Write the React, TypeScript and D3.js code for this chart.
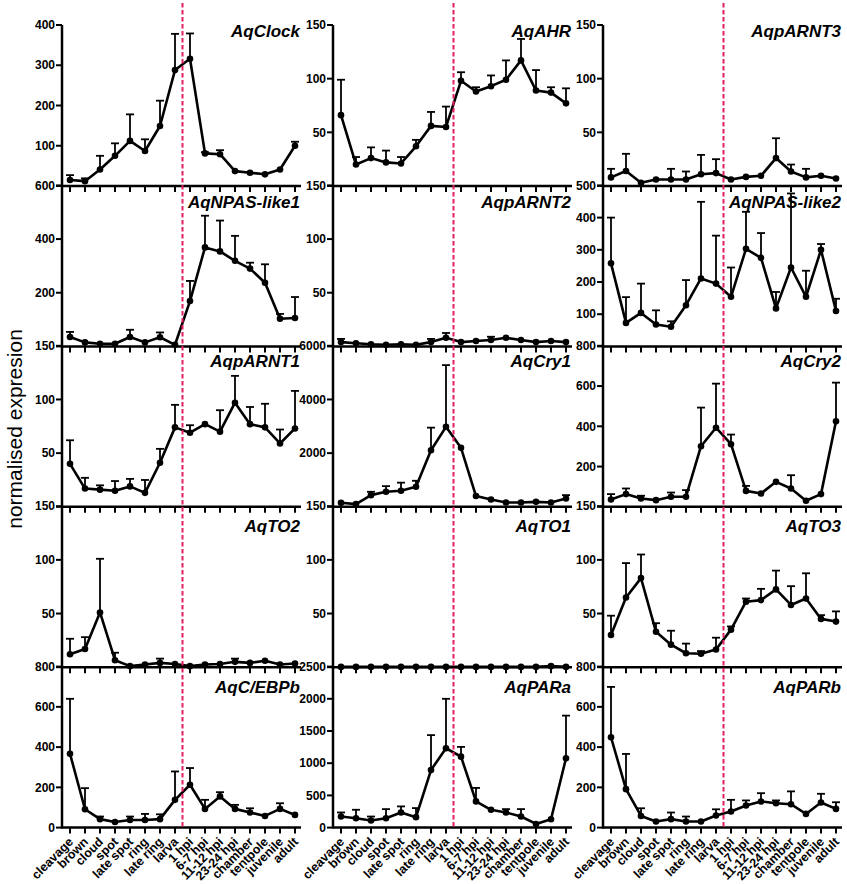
import * as d3 from "d3"

// developmental stages (x axis)
const stages = [
  "cleavage", "brown", "cloud", "spot", "late spot", "ring", "late ring", "larva",
  "1 hpi", "6-7 hpi", "11-12 hpi", "23-24 hpi", "chamber", "tentpole", "juvenile", "adult",
]

// mean expression and SEM per gene
const aqClock = [15, 12, 41, 75, 112, 87, 149, 288, 316, 81, 79, 37, 33, 29, 41, 100]
const aqClockSem = [12, 7, 34, 31, 66, 29, 63, 90, 63, 3, 10, 0, 0, 0, 0, 10]

const aqAHR = [66, 20, 26, 22, 21, 37, 56, 55, 98, 88, 93, 99, 117, 89, 87, 77]
const aqAHRSem = [33, 7, 10, 11, 6, 6, 13, 19, 8, 4, 10, 18, 20, 19, 5, 14]

const aqpARNT3 = [8, 14, 3, 6, 6, 6, 11, 12, 6, 8.5, 9.5, 26, 13.5, 8, 9.5, 7]
const aqpARNT3Sem = [8, 16, 0, 0, 10, 7.5, 18, 13, 0, 0, 0, 18.5, 6.5, 8, 0, 0]

const aqNPASlike1 = [35, 15, 10, 10, 35, 15, 34, 6, 169, 369, 354, 319, 290, 237, 103, 106]
const aqNPASlike1Sem = [19, 0, 0, 0, 27, 0, 18, 0, 75, 118, 115, 93, 22, 69, 18, 78]

const aqpARNT2 = [4, 3, 2, 1.5, 2, 1.5, 4, 8, 4, 5, 6, 8, 6, 4, 5, 4]
const aqpARNT2Sem = [3, 0, 0, 0, 0, 0, 3, 4.5, 0, 0, 3, 0, 0, 0, 0, 0]

const aqNPASlike2 = [258, 73, 104, 68, 61, 128, 211, 195, 154, 303, 275, 118, 245, 154, 300, 110]
const aqNPASlike2Sem = [142, 80, 91, 44, 17, 78, 238, 149, 91, 115, 77, 51, 230, 81, 18, 38]

const aqpARNT1 = [40, 17, 16, 15, 19, 13, 41, 74, 69, 77, 70, 97, 77, 74, 59, 73]
const aqpARNT1Sem = [22, 10, 4, 9, 7, 12, 13, 21, 7, 0, 20, 25, 16, 22, 13, 35]

const aqCry1 = [150, 100, 435, 560, 600, 745, 2110, 2980, 2200, 400, 270, 160, 160, 185, 160, 310]
const aqCry1Sem = [0, 0, 125, 210, 300, 225, 840, 2300, 0, 0, 0, 0, 0, 0, 0, 125]

const aqCry2 = [36, 63, 41, 33, 50, 50, 301, 393, 311, 79, 66, 124, 91, 30, 63, 425]
const aqCry2Sem = [27, 28, 14, 0, 21, 33, 192, 219, 48, 25, 0, 0, 66, 0, 0, 192]

const aqTO2 = [12, 17, 51, 6.5, 1, 2.5, 4, 3, 1, 2.5, 3, 5, 4, 6, 2.5, 3.5]
const aqTO2Sem = [14.5, 11, 50, 7, 0, 0, 4, 0, 0, 0, 0, 3, 0, 0, 0, 0]

const aqTO1 = [0.3, 0.3, 0.3, 0.3, 0.3, 0.3, 0.3, 0.3, 0.3, 0.3, 0.3, 0.3, 0.3, 0.3, 1, 0.3]
const aqTO1Sem = [0, 0, 0, 0, 0, 0, 0, 0, 0, 0, 0, 0, 0, 0, 0, 0]

const aqTO3 = [30, 65, 83, 33, 21, 13, 12.5, 16.5, 35, 61, 62.5, 72.5, 58, 64, 45, 42.5]
const aqTO3Sem = [18, 32, 22, 8, 13, 9, 2.5, 11, 3, 3, 10.5, 17.5, 17.5, 23.5, 3.5, 9.5]

const aqCEBPb = [367, 91, 42, 28, 38, 38, 42, 138, 213, 93, 155, 93, 75, 58, 93, 63]
const aqCEBPbSem = [273, 105, 13, 0, 17, 30, 24, 141, 83, 45, 21, 20, 21, 0, 28, 0]

const aqPARa = [172, 146, 110, 146, 235, 162, 893, 1232, 1102, 407, 277, 235, 172, 57, 130, 1076]
const aqPARaSem = [63, 131, 62, 141, 94, 141, 543, 768, 151, 209, 0, 52, 115, 0, 0, 663]

const aqPARb = [449, 191, 58, 30, 42, 30, 30, 60, 80, 110, 130, 121, 116, 68, 125, 93]
const aqPARbSem = [250, 175, 38, 0, 33, 25, 0, 31, 58, 25, 41, 14, 64, 0, 43, 33]

// panel titles, y-axis max and tick step (row by row)
const titles = [
  "AqClock", "AqAHR", "AqpARNT3",
  "AqNPAS-like1", "AqpARNT2", "AqNPAS-like2",
  "AqpARNT1", "AqCry1", "AqCry2",
  "AqTO2", "AqTO1", "AqTO3",
  "AqC/EBPb", "AqPARa", "AqPARb",
]
const yMax = [400, 150, 150, 600, 150, 500, 150, 6000, 800, 150, 150, 150, 800, 2500, 800]
const yStep = [100, 50, 50, 200, 50, 100, 50, 2000, 200, 50, 50, 50, 200, 500, 200]
const means = [
  aqClock, aqAHR, aqpARNT3,
  aqNPASlike1, aqpARNT2, aqNPASlike2,
  aqpARNT1, aqCry1, aqCry2,
  aqTO2, aqTO1, aqTO3,
  aqCEBPb, aqPARa, aqPARb,
]
const sems = [
  aqClockSem, aqAHRSem, aqpARNT3Sem,
  aqNPASlike1Sem, aqpARNT2Sem, aqNPASlike2Sem,
  aqpARNT1Sem, aqCry1Sem, aqCry2Sem,
  aqTO2Sem, aqTO1Sem, aqTO3Sem,
  aqCEBPbSem, aqPARaSem, aqPARbSem,
]

const W = 847
const H = 884
const axisX = [62, 333, 603]
const firstBase = 186
const rowStep = 160.4
const panelH = 161
const titleOffset = [12, 23, 21, 26, 26]
const font = "Arial, 'Liberation Sans', sans-serif"
const red = "#e2215c"

function Panel({ idx }: { idx: number }) {
  const col = idx % 3
  const row = Math.floor(idx / 3)
  const ax = axisX[col]
  const base = firstBase + row * rowStep
  const x = d3.scalePoint<string>().domain(stages).range([ax + 8, ax + 233])
  const y = d3.scaleLinear().domain([0, yMax[idx]]).range([base, base - panelH])
  const ticks = d3.range(0, yMax[idx] + 0.001, yStep[idx])
  const vals = means[idx]
  const err = sems[idx]
  const line = d3
    .line<number>()
    .x((_, i) => x(stages[i])!)
    .y((d) => y(d))
  const lastX = x(stages[stages.length - 1])!

  return (
    <g>
      {/* y axis */}
      <line x1={ax} x2={ax} y1={base + 1} y2={base - panelH} stroke="#000" strokeWidth={2.5} />
      {ticks.map((t) => (
        <g key={t}>
          <line x1={ax - 6} x2={ax} y1={y(t)} y2={y(t)} stroke="#000" strokeWidth={2} />
          {/* the "0" of upper panels sits under the last digit of the top label below it */}
          {(t > 0 || row === 4) && (
            <text
              x={ax - 7}
              y={y(t)}
              dy="0.35em"
              textAnchor="end"
              fontFamily={font}
              fontWeight="bold"
              fontSize={12}
            >
              {t}
            </text>
          )}
        </g>
      ))}
      {/* x axis */}
      <line x1={ax} x2={lastX + 6} y1={base} y2={base} stroke="#000" strokeWidth={2.5} />
      {stages.map((s) => (
        <line key={s} x1={x(s)} x2={x(s)} y1={base} y2={base + 6} stroke="#000" strokeWidth={2} />
      ))}
      {row === 4 &&
        stages.map((s) => (
          <text
            key={s}
            transform={`translate(${x(s)! + 4},${base + 15}) rotate(-45)`}
            textAnchor="end"
            fontFamily={font}
            fontWeight="bold"
            fontSize={12.5}
          >
            {s}
          </text>
        ))}
      {/* error bars (upper only) */}
      {vals.map((v, i) =>
        err[i] > 0 ? (
          <g key={i} stroke="#000" strokeWidth={1.8}>
            <line x1={x(stages[i])} x2={x(stages[i])} y1={y(v)} y2={y(v + err[i])} />
            <line x1={x(stages[i])! - 4} x2={x(stages[i])! + 4} y1={y(v + err[i])} y2={y(v + err[i])} />
          </g>
        ) : null,
      )}
      <path d={line(vals)!} fill="none" stroke="#000" strokeWidth={2.6} strokeLinejoin="round" />
      {vals.map((v, i) => (
        <circle key={i} cx={x(stages[i])} cy={y(v)} r={3.3} fill="#000" />
      ))}
      <text
        x={ax + 238}
        y={base - panelH + titleOffset[row]}
        textAnchor="end"
        fontFamily={font}
        fontWeight="bold"
        fontStyle="italic"
        fontSize={17}
      >
        {titles[idx]}
      </text>
    </g>
  )
}

export default function App() {
  const lastBase = firstBase + 4 * rowStep
  return (
    <svg
      width={W}
      height={H}
      viewBox={`0 0 ${W} ${H}`}
      style={{ position: "absolute", left: 0, top: 0, background: "#fff" }}
    >
      {titles.map((_, i) => (
        <Panel key={i} idx={i} />
      ))}
      {axisX.map((ax) => {
        const x = d3.scalePoint<string>().domain(stages).range([ax + 8, ax + 233])
        const mx = (x("larva")! + x("1 hpi")!) / 2
        return (
          <line
            key={ax}
            x1={mx}
            x2={mx}
            y1={3}
            y2={lastBase}
            stroke={red}
            strokeWidth={2}
            strokeDasharray="4.5 2.5"
          />
        )
      })}
      <text
        transform="translate(22,429) rotate(-90)"
        textAnchor="middle"
        fontFamily={font}
        fontSize={21}
      >
        normalised expresion
      </text>
    </svg>
  )
}
